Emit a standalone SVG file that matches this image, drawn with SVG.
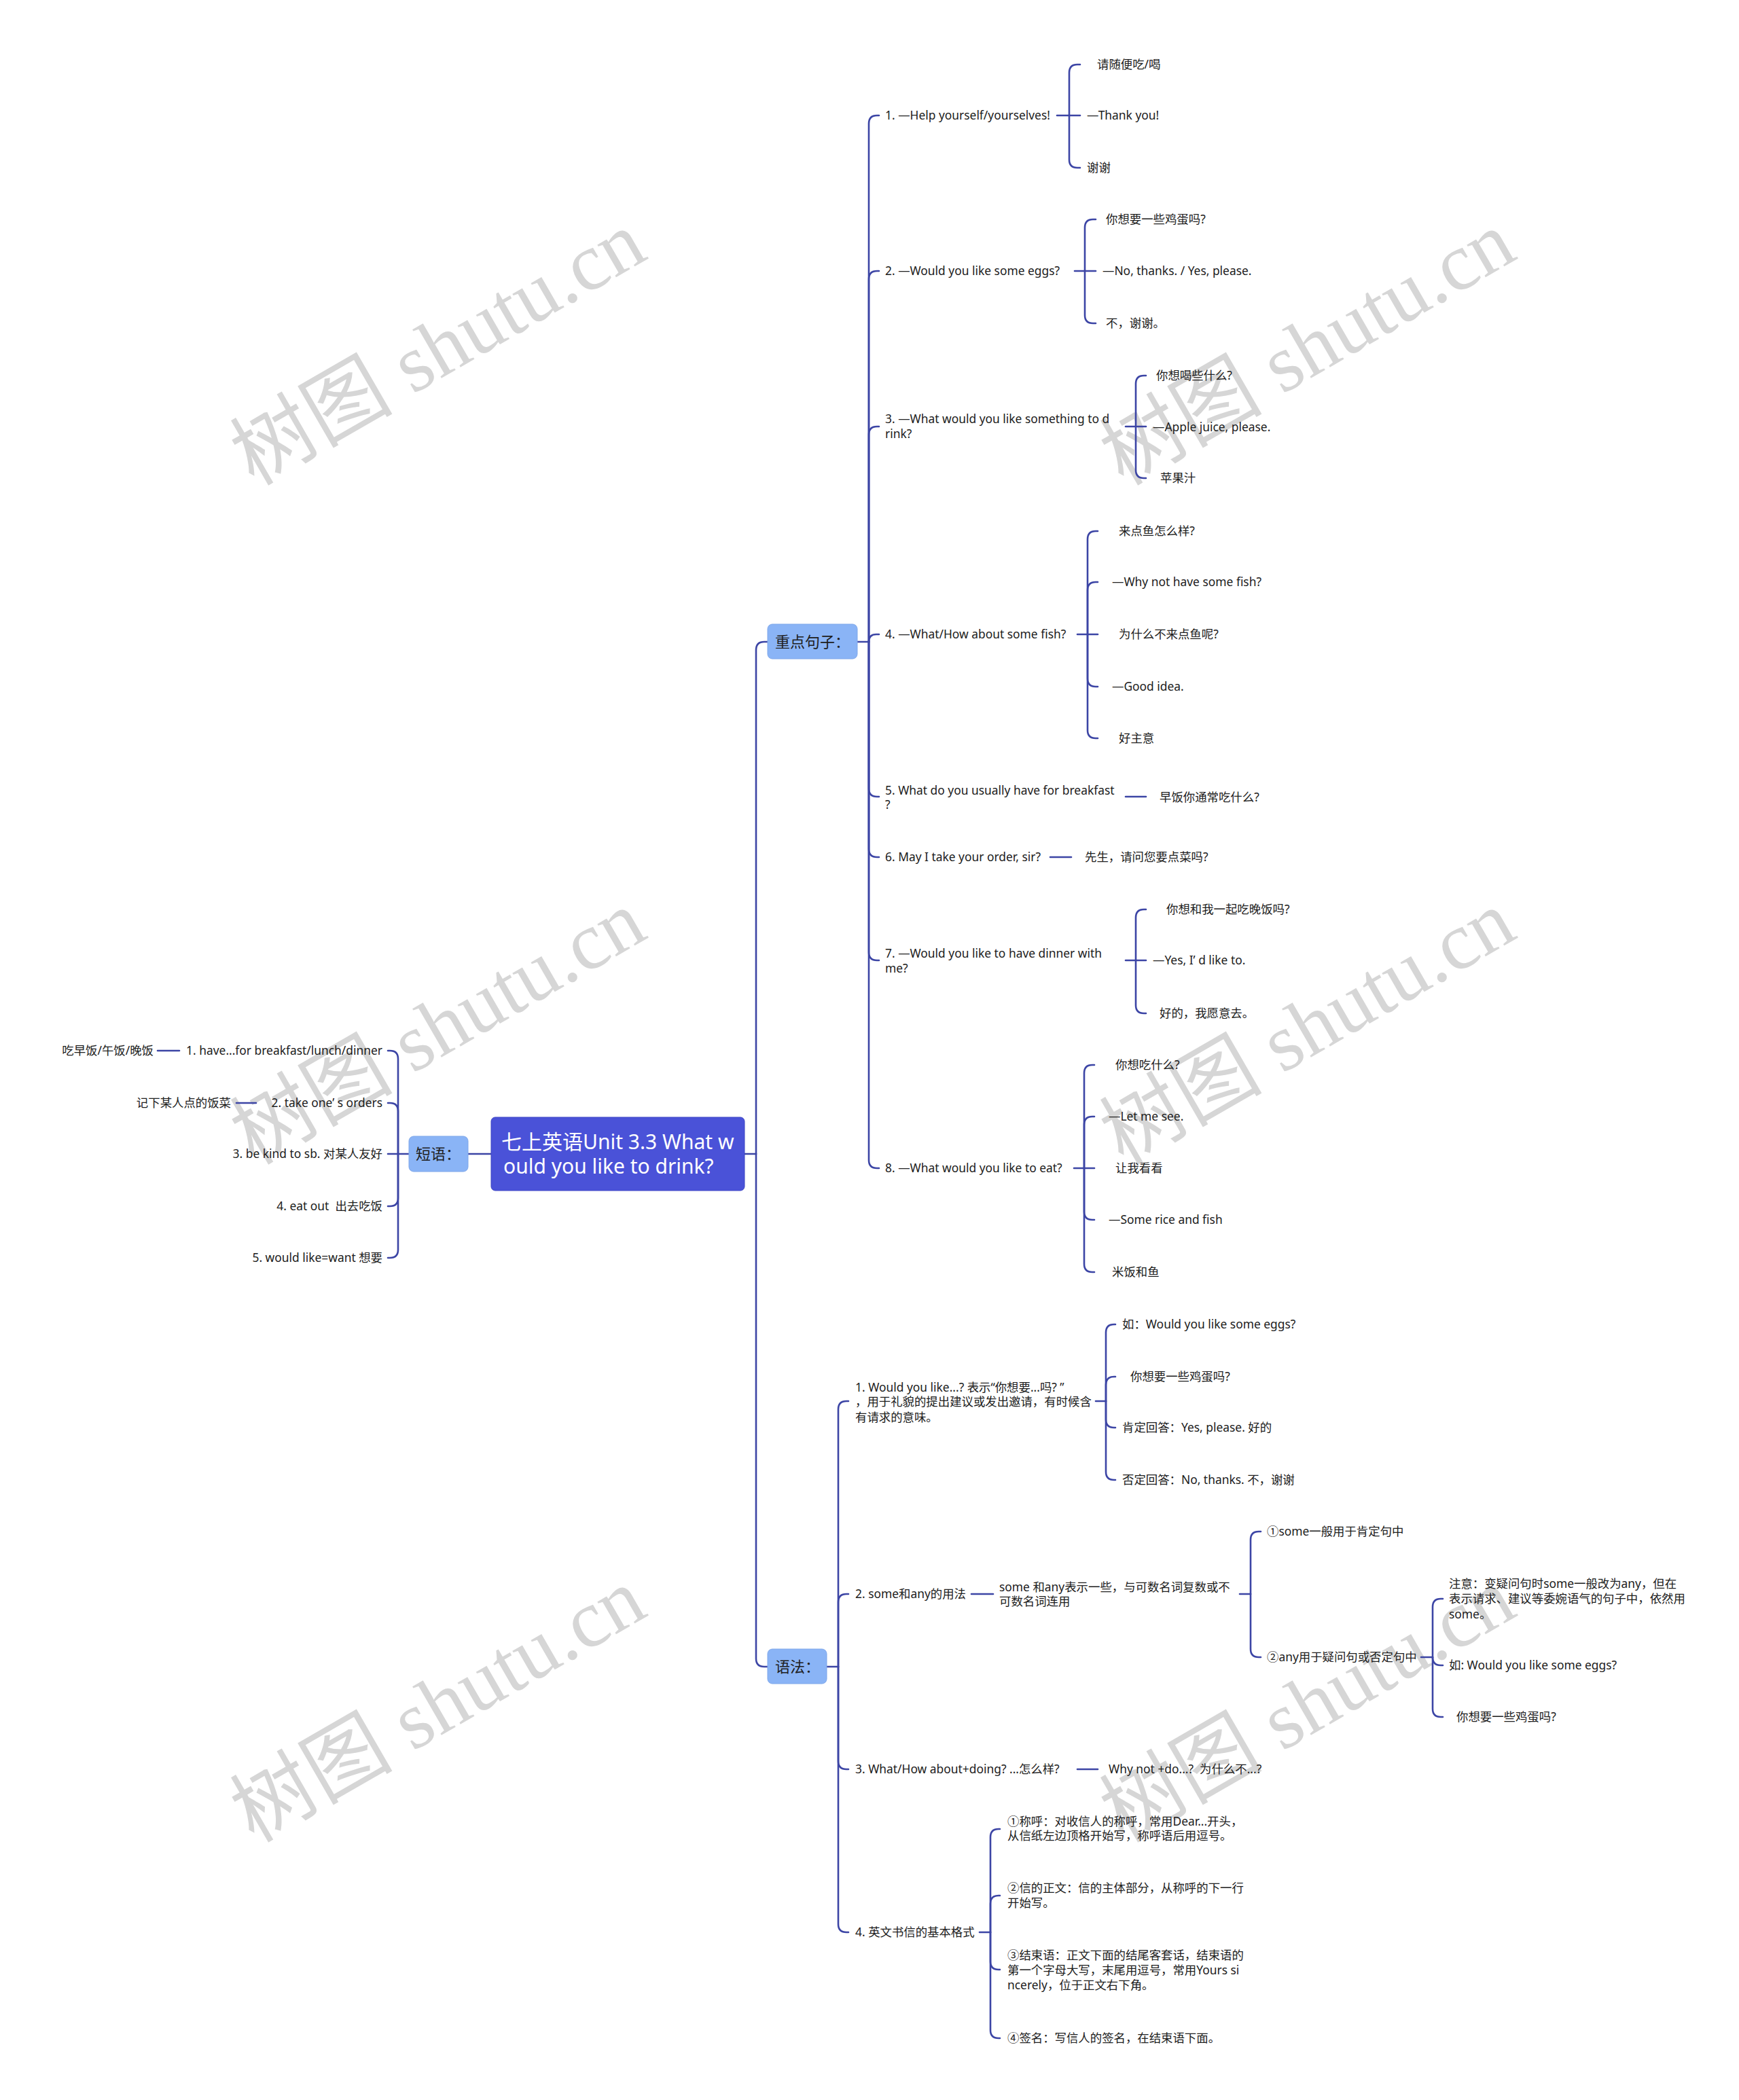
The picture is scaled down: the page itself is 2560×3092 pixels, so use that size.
<svg xmlns="http://www.w3.org/2000/svg" width="2560" height="3092" viewBox="0 0 2560 3092" xml:space="preserve">
<style>
.bg{fill:#ffffff}
.wm{font-family:"Liberation Serif","Noto Sans CJK SC",serif;font-size:120px;fill:#d6d6d6}
.ln{fill:none;stroke:#3c45a5;stroke-width:2.6;stroke-linecap:round;stroke-linejoin:round}
.t{font-family:"Noto Sans","Noto Sans CJK SC",sans-serif;font-size:17.4px;fill:#202020;white-space:pre}
.te{text-anchor:end}
.l1{font-family:"Noto Sans","Noto Sans CJK SC",sans-serif;font-size:22px;fill:#202020}
.rt{font-family:"Noto Sans","Noto Sans CJK SC",sans-serif;font-size:30px;fill:#ffffff}
.rootbox{fill:#4a52d8;stroke:#3d45c4;stroke-width:1}
.l1box{fill:#8ab4f6;stroke:#7ea7ea;stroke-width:1}
</style>
<rect class="bg" x="0" y="0" width="2560" height="3092"/>
<g id="watermarks">
<text class="wm" transform="translate(646,515) rotate(-30)" text-anchor="middle" y="38">树图 shutu.cn</text>
<text class="wm" transform="translate(1926,515) rotate(-30)" text-anchor="middle" y="38">树图 shutu.cn</text>
<text class="wm" transform="translate(646,1515) rotate(-30)" text-anchor="middle" y="38">树图 shutu.cn</text>
<text class="wm" transform="translate(1926,1515) rotate(-30)" text-anchor="middle" y="38">树图 shutu.cn</text>
<text class="wm" transform="translate(646,2513) rotate(-30)" text-anchor="middle" y="38">树图 shutu.cn</text>
<text class="wm" transform="translate(1926,2513) rotate(-30)" text-anchor="middle" y="38">树图 shutu.cn</text>
</g>
<g id="connectors">
<path class="ln" d="M1096 1699 H1113"/>
<path class="ln" d="M1113 1699 V957 Q1113 945 1125 945 H1130"/>
<path class="ln" d="M1113 1699 V2442 Q1113 2454 1125 2454 H1130"/>
<path class="ln" d="M723 1699 H689"/>
<path class="ln" d="M602 1699 H586"/>
<path class="ln" d="M586 1699 V1559 Q586 1547 574 1547 H571"/>
<path class="ln" d="M586 1699 V1636 Q586 1624 574 1624 H571"/>
<path class="ln" d="M586 1699 H571"/>
<path class="ln" d="M586 1699 V1764 Q586 1776 574 1776 H571"/>
<path class="ln" d="M586 1699 V1840 Q586 1852 574 1852 H571"/>
<path class="ln" d="M232 1547 H264"/>
<path class="ln" d="M348 1624 H377"/>
<path class="ln" d="M1262 945 H1279"/>
<path class="ln" d="M1279 945 V182 Q1279 170 1291 170 H1294"/>
<path class="ln" d="M1279 945 V411 Q1279 399 1291 399 H1294"/>
<path class="ln" d="M1279 945 V640 Q1279 628 1291 628 H1294"/>
<path class="ln" d="M1279 945 Q1279 934 1290 934 H1294"/>
<path class="ln" d="M1279 945 V1161 Q1279 1173 1291 1173 H1294"/>
<path class="ln" d="M1279 945 V1250 Q1279 1262 1291 1262 H1294"/>
<path class="ln" d="M1279 945 V1402 Q1279 1414 1291 1414 H1294"/>
<path class="ln" d="M1279 945 V1708 Q1279 1720 1291 1720 H1294"/>
<path class="ln" d="M1556 170 H1590"/>
<path class="ln" d="M1574 170 V107 Q1574 95 1586 95 H1590"/>
<path class="ln" d="M1574 170 V235 Q1574 247 1586 247 H1590"/>
<path class="ln" d="M1582 399 H1613"/>
<path class="ln" d="M1597 399 V335 Q1597 323 1609 323 H1613"/>
<path class="ln" d="M1597 399 V464 Q1597 476 1609 476 H1613"/>
<path class="ln" d="M1657 628 H1687"/>
<path class="ln" d="M1672 628 V565 Q1672 553 1684 553 H1687"/>
<path class="ln" d="M1672 628 V692 Q1672 704 1684 704 H1687"/>
<path class="ln" d="M1586 934 H1616"/>
<path class="ln" d="M1601 934 V794 Q1601 782 1613 782 H1616"/>
<path class="ln" d="M1601 934 V869 Q1601 857 1613 857 H1616"/>
<path class="ln" d="M1601 934 V999 Q1601 1011 1613 1011 H1616"/>
<path class="ln" d="M1601 934 V1075 Q1601 1087 1613 1087 H1616"/>
<path class="ln" d="M1657 1173 H1687"/>
<path class="ln" d="M1546 1262 H1577"/>
<path class="ln" d="M1657 1414 H1687"/>
<path class="ln" d="M1672 1414 V1351 Q1672 1339 1684 1339 H1687"/>
<path class="ln" d="M1672 1414 V1480 Q1672 1492 1684 1492 H1687"/>
<path class="ln" d="M1581 1720 H1611"/>
<path class="ln" d="M1596 1720 V1580 Q1596 1568 1608 1568 H1611"/>
<path class="ln" d="M1596 1720 V1656 Q1596 1644 1608 1644 H1611"/>
<path class="ln" d="M1596 1720 V1784 Q1596 1796 1608 1796 H1611"/>
<path class="ln" d="M1596 1720 V1861 Q1596 1873 1608 1873 H1611"/>
<path class="ln" d="M1217 2454 H1234"/>
<path class="ln" d="M1234 2454 V2075 Q1234 2063 1246 2063 H1249"/>
<path class="ln" d="M1234 2454 V2359 Q1234 2347 1246 2347 H1249"/>
<path class="ln" d="M1234 2454 V2593 Q1234 2605 1246 2605 H1249"/>
<path class="ln" d="M1234 2454 V2833 Q1234 2845 1246 2845 H1249"/>
<path class="ln" d="M1613 2063 H1628"/>
<path class="ln" d="M1628 2063 V1962 Q1628 1950 1640 1950 H1642"/>
<path class="ln" d="M1628 2063 V2039 Q1628 2027 1640 2027 H1642"/>
<path class="ln" d="M1628 2063 V2090 Q1628 2102 1640 2102 H1642"/>
<path class="ln" d="M1628 2063 V2167 Q1628 2179 1640 2179 H1642"/>
<path class="ln" d="M1430 2347 H1462"/>
<path class="ln" d="M1825 2347 H1841"/>
<path class="ln" d="M1841 2347 V2267 Q1841 2255 1853 2255 H1856"/>
<path class="ln" d="M1841 2347 V2428 Q1841 2440 1853 2440 H1856"/>
<path class="ln" d="M2092 2440 H2109"/>
<path class="ln" d="M2109 2440 V2366 Q2109 2354 2121 2354 H2124"/>
<path class="ln" d="M2109 2440 Q2109 2452 2121 2452 H2124"/>
<path class="ln" d="M2109 2440 V2516 Q2109 2528 2121 2528 H2124"/>
<path class="ln" d="M1586 2605 H1616"/>
<path class="ln" d="M1442 2845 H1458"/>
<path class="ln" d="M1458 2845 V2705 Q1458 2693 1470 2693 H1472"/>
<path class="ln" d="M1458 2845 V2803 Q1458 2791 1470 2791 H1472"/>
<path class="ln" d="M1458 2845 V2888 Q1458 2900 1470 2900 H1472"/>
<path class="ln" d="M1458 2845 V2989 Q1458 3001 1470 3001 H1472"/>
</g>
<g id="root">
<rect class="rootbox" x="723" y="1645" width="373" height="108" rx="6"/>
<text class="rt" x="738" y="1692">七上英语Unit 3.3 What w</text>
<text class="rt" x="741" y="1728">ould you like to drink?</text>
</g>
<g id="n-duanyu">
<rect class="l1box" x="602" y="1673" width="87" height="52" rx="7"/>
<text class="l1" x="612" y="1707">短语：</text>
</g>
<g id="n-duanyu-1"><text class="t te" x="563" y="1553">1. have...for breakfast/lunch/dinner</text></g>
<g id="n-duanyu-1-1"><text class="t te" x="226" y="1553">吃早饭/午饭/晚饭</text></g>
<g id="n-duanyu-2"><text class="t te" x="563" y="1630">2. take one’ s orders</text></g>
<g id="n-duanyu-2-1"><text class="t te" x="340" y="1630">记下某人点的饭菜</text></g>
<g id="n-duanyu-3"><text class="t te" x="563" y="1705">3. be kind to sb. 对某人友好</text></g>
<g id="n-duanyu-4"><text class="t te" x="563" y="1782">4. eat out  出去吃饭</text></g>
<g id="n-duanyu-5"><text class="t te" x="563" y="1858">5. would like=want 想要</text></g>
<g id="n-juzi">
<rect class="l1box" x="1130" y="919" width="132" height="51" rx="7"/>
<text class="l1" x="1141" y="953">重点句子：</text>
</g>
<g id="n-juzi-1"><text class="t" x="1303" y="176">1. —Help yourself/yourselves!</text></g>
<g id="n-juzi-1-1"><text class="t" x="1615" y="101">请随便吃/喝</text></g>
<g id="n-juzi-1-2"><text class="t" x="1600" y="176">—Thank you!</text></g>
<g id="n-juzi-1-3"><text class="t" x="1600" y="253">谢谢</text></g>
<g id="n-juzi-2"><text class="t" x="1303" y="405">2. —Would you like some eggs?</text></g>
<g id="n-juzi-2-1"><text class="t" x="1628" y="329">你想要一些鸡蛋吗?</text></g>
<g id="n-juzi-2-2"><text class="t" x="1623" y="405">—No, thanks. / Yes, please.</text></g>
<g id="n-juzi-2-3"><text class="t" x="1628" y="482">不，谢谢。</text></g>
<g id="n-juzi-3"><text class="t" x="1303" y="623">3. —What would you like something to d</text><text class="t" x="1303" y="645">rink?</text></g>
<g id="n-juzi-3-1"><text class="t" x="1702" y="559">你想喝些什么?</text></g>
<g id="n-juzi-3-2"><text class="t" x="1697" y="635">—Apple juice, please.</text></g>
<g id="n-juzi-3-3"><text class="t" x="1708" y="710">苹果汁</text></g>
<g id="n-juzi-4"><text class="t" x="1303" y="940">4. —What/How about some fish?</text></g>
<g id="n-juzi-4-1"><text class="t" x="1647" y="788">来点鱼怎么样?</text></g>
<g id="n-juzi-4-2"><text class="t" x="1637" y="863">—Why not have some fish?</text></g>
<g id="n-juzi-4-3"><text class="t" x="1647" y="940">为什么不来点鱼呢?</text></g>
<g id="n-juzi-4-4"><text class="t" x="1637" y="1017">—Good idea.</text></g>
<g id="n-juzi-4-5"><text class="t" x="1647" y="1093">好主意</text></g>
<g id="n-juzi-5"><text class="t" x="1303" y="1170">5. What do you usually have for breakfast</text><text class="t" x="1303" y="1191">?</text></g>
<g id="n-juzi-5-1"><text class="t" x="1707" y="1180">早饭你通常吃什么?</text></g>
<g id="n-juzi-6"><text class="t" x="1303" y="1268">6. May I take your order, sir?</text></g>
<g id="n-juzi-6-1"><text class="t" x="1597" y="1268">先生，请问您要点菜吗?</text></g>
<g id="n-juzi-7"><text class="t" x="1303" y="1410">7. —Would you like to have dinner with</text><text class="t" x="1303" y="1432">me?</text></g>
<g id="n-juzi-7-1"><text class="t" x="1717" y="1345">你想和我一起吃晚饭吗?</text></g>
<g id="n-juzi-7-2"><text class="t" x="1697" y="1420">—Yes, I’ d like to.</text></g>
<g id="n-juzi-7-3"><text class="t" x="1707" y="1498">好的，我愿意去。</text></g>
<g id="n-juzi-8"><text class="t" x="1303" y="1726">8. —What would you like to eat?</text></g>
<g id="n-juzi-8-1"><text class="t" x="1642" y="1574">你想吃什么?</text></g>
<g id="n-juzi-8-2"><text class="t" x="1632" y="1650">—Let me see.</text></g>
<g id="n-juzi-8-3"><text class="t" x="1642" y="1726">让我看看</text></g>
<g id="n-juzi-8-4"><text class="t" x="1632" y="1802">—Some rice and fish</text></g>
<g id="n-juzi-8-5"><text class="t" x="1637" y="1879">米饭和鱼</text></g>
<g id="n-yufa">
<rect class="l1box" x="1130" y="2428" width="87" height="51" rx="7"/>
<text class="l1" x="1141" y="2462">语法：</text>
</g>
<g id="n-yufa-1"><text class="t" x="1259" y="2049">1. Would you like...? 表示“你想要...吗? ”</text><text class="t" x="1259" y="2070">，用于礼貌的提出建议或发出邀请，有时候含</text><text class="t" x="1259" y="2093">有请求的意味。</text></g>
<g id="n-yufa-1-1"><text class="t" x="1652" y="1956">如：Would you like some eggs?</text></g>
<g id="n-yufa-1-2"><text class="t" x="1664" y="2033">你想要一些鸡蛋吗?</text></g>
<g id="n-yufa-1-3"><text class="t" x="1652" y="2108">肯定回答：Yes, please. 好的</text></g>
<g id="n-yufa-1-4"><text class="t" x="1652" y="2185">否定回答：No, thanks. 不，谢谢</text></g>
<g id="n-yufa-2"><text class="t" x="1259" y="2353">2. some和any的用法</text></g>
<g id="n-yufa-2-1"><text class="t" x="1471" y="2343">some 和any表示一些，与可数名词复数或不</text><text class="t" x="1471" y="2364">可数名词连用</text></g>
<g id="n-yufa-2-1-1"><text class="t" x="1865" y="2261">①some一般用于肯定句中</text></g>
<g id="n-yufa-2-1-2"><text class="t" x="1865" y="2446">②any用于疑问句或否定句中</text></g>
<g id="n-yufa-2-1-2-1"><text class="t" x="2133" y="2338">注意：变疑问句时some一般改为any，但在</text><text class="t" x="2133" y="2360">表示请求、建议等委婉语气的句子中，依然用</text><text class="t" x="2133" y="2383">some。</text></g>
<g id="n-yufa-2-1-2-2"><text class="t" x="2133" y="2458">如: Would you like some eggs?</text></g>
<g id="n-yufa-2-1-2-3"><text class="t" x="2144" y="2534">你想要一些鸡蛋吗?</text></g>
<g id="n-yufa-3"><text class="t" x="1259" y="2611">3. What/How about+doing? ...怎么样?</text></g>
<g id="n-yufa-3-1"><text class="t" x="1632" y="2611">Why not +do...?  为什么不...?</text></g>
<g id="n-yufa-4"><text class="t" x="1259" y="2851">4. 英文书信的基本格式</text></g>
<g id="n-yufa-4-1"><text class="t" x="1483" y="2688">①称呼：对收信人的称呼，常用Dear...开头，</text><text class="t" x="1483" y="2709">从信纸左边顶格开始写，称呼语后用逗号。</text></g>
<g id="n-yufa-4-2"><text class="t" x="1483" y="2786">②信的正文：信的主体部分，从称呼的下一行</text><text class="t" x="1483" y="2808">开始写。</text></g>
<g id="n-yufa-4-3"><text class="t" x="1483" y="2885">③结束语：正文下面的结尾客套话，结束语的</text><text class="t" x="1483" y="2907">第一个字母大写，末尾用逗号，常用Yours si</text><text class="t" x="1483" y="2929">ncerely，位于正文右下角。</text></g>
<g id="n-yufa-4-4"><text class="t" x="1483" y="3007">④签名：写信人的签名，在结束语下面。</text></g>
</svg>
